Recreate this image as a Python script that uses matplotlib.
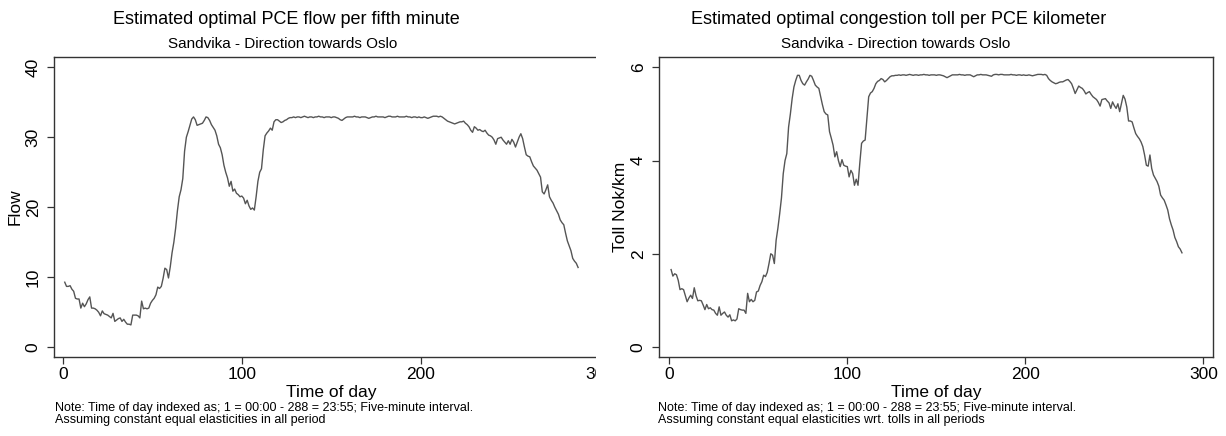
import numpy as np
import matplotlib
matplotlib.use("Agg")
import matplotlib.pyplot as plt
from matplotlib.patches import Rectangle

plt.rcParams['font.family'] = ['Liberation Sans', 'DejaVu Sans']

# ---------------- data ----------------
time_index = list(range(1, 289))

flow = [
    9.3, 8.7, 8.7, 8.8, 8.3, 8.0, 7.0, 6.9, 6.9, 5.6,
    6.3, 5.8, 6.2, 6.8, 7.2, 5.6, 5.6, 5.5, 5.3, 5.0,
    4.5, 5.2, 4.8, 4.7, 4.6, 4.4, 4.2, 4.85, 3.7, 3.9,
    4.1, 4.2, 3.7, 4.0, 3.6, 3.3, 3.3, 3.2, 4.6, 4.6,
    4.6, 4.5, 4.2, 6.6, 5.5, 5.6, 5.5, 5.6, 6.3, 6.7,
    7.0, 7.5, 8.6, 8.4, 8.7, 9.85, 11.3, 11.1, 9.9, 11.5,
    13.5, 15.0, 17.0, 19.5, 21.5, 22.5, 24.1, 28.0, 30.0, 30.8,
    31.7, 32.6, 32.9, 32.5, 31.7, 31.8, 31.9, 32.0, 32.4, 32.9,
    32.8, 32.4, 31.8, 31.4, 31.0, 30.2, 29.0, 28.5, 27.5, 26.0,
    25.0, 24.2, 23.0, 23.7, 22.3, 22.6, 22.0, 21.8, 21.5, 21.6,
    21.3, 20.5, 21.0, 20.2, 19.7, 19.9, 19.6, 21.5, 23.7, 25.0,
    25.5, 28.2, 30.2, 30.6, 30.9, 31.3, 31.0, 32.2, 32.5, 32.5,
    32.3, 32.1, 32.2, 32.4, 32.5, 32.7, 32.8, 32.8, 32.9, 32.8,
    32.9, 32.9, 32.8, 32.9, 33.0, 32.9, 32.8, 32.9, 32.9, 32.8,
    32.9, 32.9, 33.0, 32.9, 32.9, 32.8, 32.9, 32.9, 32.9, 32.8,
    32.9, 32.9, 32.8, 32.7, 32.5, 32.4, 32.6, 32.8, 32.9, 32.9,
    32.9, 32.9, 33.0, 32.9, 32.9, 32.8, 32.9, 32.9, 32.9, 32.8,
    32.7, 32.8, 32.9, 32.9, 33.0, 32.9, 32.9, 32.9, 32.9, 32.8,
    32.9, 33.0, 33.0, 32.9, 32.9, 32.9, 33.0, 32.9, 32.9, 32.9,
    32.9, 33.0, 32.9, 32.9, 32.8, 32.9, 32.9, 32.8, 32.9, 32.8,
    32.8, 32.9, 32.8, 32.7, 32.8, 32.9, 33.0, 33.0, 33.0, 32.9,
    33.0, 32.9, 32.7, 32.5, 32.3, 32.2, 32.1, 32.0, 31.9, 32.0,
    32.1, 32.2, 32.2, 32.3, 32.0, 31.8, 31.5, 31.0, 30.7, 31.5,
    31.3, 31.0, 31.1, 30.9, 30.8, 31.0, 30.6, 30.3, 30.2, 30.0,
    29.6, 29.0, 29.8, 29.9, 30.0, 29.6, 29.3, 29.0, 29.5, 29.0,
    29.7, 29.3, 28.6, 29.3, 30.0, 30.5, 29.8, 28.6, 27.5, 27.3,
    27.2, 26.5, 25.9, 25.6, 25.3, 24.8, 24.3, 22.2, 21.9, 22.5,
    23.2, 21.5, 21.0, 20.6, 20.0, 19.5, 19.0, 18.2, 17.8, 17.5,
    16.3, 15.2, 14.5, 13.8, 12.7, 12.3, 12.0, 11.4,
]

toll = [
    1.66, 1.52, 1.57, 1.55, 1.43, 1.23, 1.25, 1.23, 1.10, 0.97,
    1.05, 1.11, 1.04, 1.27, 1.10, 0.99, 1.00, 0.99, 0.90, 0.80,
    0.91, 0.82, 0.84, 0.80, 0.79, 0.72, 0.68, 0.86, 0.68, 0.72,
    0.75, 0.68, 0.64, 0.69, 0.56, 0.58, 0.56, 0.60, 0.82, 0.80,
    0.79, 0.79, 0.72, 1.15, 0.97, 1.02, 0.97, 1.00, 1.18, 1.20,
    1.32, 1.40, 1.54, 1.51, 1.60, 1.79, 2.00, 1.97, 1.79, 2.29,
    2.55, 2.86, 3.20, 3.72, 4.00, 4.15, 4.72, 5.00, 5.33, 5.58,
    5.72, 5.83, 5.83, 5.72, 5.65, 5.62, 5.69, 5.75, 5.83, 5.81,
    5.72, 5.62, 5.58, 5.55, 5.37, 5.20, 5.05, 5.00, 4.98, 4.62,
    4.48, 4.33, 4.08, 4.19, 4.00, 3.87, 4.02, 3.90, 3.88, 3.87,
    3.65, 3.79, 3.72, 3.47, 3.60, 3.47, 3.94, 4.37, 4.42, 4.44,
    4.90, 5.37, 5.45, 5.48, 5.55, 5.65, 5.70, 5.72, 5.76, 5.74,
    5.69, 5.72, 5.76, 5.80, 5.82, 5.82, 5.83, 5.83, 5.84, 5.83,
    5.84, 5.84, 5.83, 5.84, 5.85, 5.84, 5.83, 5.84, 5.84, 5.83,
    5.84, 5.84, 5.85, 5.84, 5.84, 5.83, 5.84, 5.84, 5.84, 5.83,
    5.84, 5.84, 5.83, 5.82, 5.80, 5.78, 5.80, 5.82, 5.84, 5.84,
    5.84, 5.84, 5.85, 5.84, 5.84, 5.83, 5.84, 5.84, 5.84, 5.82,
    5.80, 5.82, 5.84, 5.84, 5.85, 5.84, 5.84, 5.84, 5.83, 5.82,
    5.81, 5.84, 5.85, 5.85, 5.84, 5.85, 5.85, 5.84, 5.84, 5.84,
    5.84, 5.85, 5.84, 5.84, 5.83, 5.84, 5.84, 5.83, 5.84, 5.83,
    5.83, 5.84, 5.83, 5.82, 5.83, 5.84, 5.85, 5.85, 5.85, 5.84,
    5.85, 5.83, 5.76, 5.72, 5.69, 5.67, 5.65, 5.66, 5.68, 5.69,
    5.69, 5.71, 5.73, 5.74, 5.70, 5.65, 5.55, 5.44, 5.52, 5.60,
    5.57, 5.55, 5.50, 5.43, 5.46, 5.48, 5.42, 5.37, 5.34, 5.31,
    5.25, 5.17, 5.31, 5.32, 5.33, 5.28, 5.24, 5.12, 5.26, 5.18,
    5.12, 5.22, 5.05, 5.22, 5.40, 5.32, 5.15, 4.85, 4.85, 4.83,
    4.70, 4.58, 4.52, 4.47, 4.40, 4.30, 4.12, 3.90, 3.88, 4.12,
    3.83, 3.69, 3.62, 3.55, 3.45, 3.26, 3.20, 3.15, 3.05, 2.94,
    2.75, 2.62, 2.51, 2.35, 2.26, 2.15, 2.10, 2.02,
]

x_ticks = [0, 100, 200, 300]
flow_ticks = [0, 10, 20, 30, 40]
toll_ticks = [0, 2, 4, 6]

titles = ["Estimated optimal PCE flow per fifth minute",
          "Estimated optimal congestion toll per PCE kilometer"]
subtitle = "Sandvika - Direction towards Oslo"
ylabels = ["Flow", "Toll Nok/km"]
xlabel = "Time of day"
note_line1 = "Note: Time of day indexed as; 1 = 00:00 - 288 = 23:55; Five-minute interval."
note_line2 = ["Assuming constant equal elasticities in all period",
              "Assuming constant equal elasticities wrt. tolls in all periods"]

# ---------------- figure ----------------
W, H = 1226, 436
fig = plt.figure(figsize=(W / 100, H / 100), dpi=100)

def fx(px):
    return px / W

def fy(py):
    return 1 - py / H

top_px, bot_px = 56.7, 356.7
ax1 = fig.add_axes([fx(54), fy(bot_px), fx(608.5 - 54), (bot_px - top_px) / H])
ax2 = fig.add_axes([fx(659), fy(bot_px), fx(1213.3 - 659), (bot_px - top_px) / H])
ax1.set_zorder(0)
ax2.set_zorder(2)

line_color = "#555555"
spine_color = "#333333"

for ax, data, yt, ylab, ylim, xlim in [
    (ax1, flow, flow_ticks, ylabels[0], (-1.34, 41.5), (-5.0, 305.0)),
    (ax2, toll, toll_ticks, ylabels[1], (-0.21, 6.23), (-5.8, 305.6)),
]:
    ax.plot(time_index, data, color=line_color, lw=1.0)
    ax.set_xlim(*xlim)
    ax.set_ylim(*ylim)
    ax.set_xticks(x_ticks)
    ax.set_yticks(yt)
    ax.tick_params(axis='both', direction='out', length=5, width=0.9,
                   color=spine_color, labelsize=12.5)
    ax.tick_params(axis='y', pad=4.5)
    ax.tick_params(axis='x', pad=2.5)
    for lbl in ax.get_yticklabels():
        lbl.set_rotation(90)
        lbl.set_va('center')
    for s in ax.spines.values():
        s.set_color(spine_color)
        s.set_linewidth(1.0)
    ax.set_ylabel(ylab, fontsize=12.5)
    ax.yaxis.set_label_coords(-0.0559, 0.5)
    ax.set_xlabel(xlabel, fontsize=12.5, labelpad=2)

# Mask the clipped right edge of the left panel (drawn above ax1, below ax2)
fig.add_artist(Rectangle((fx(596), 0), fx(615 - 596), 1, transform=fig.transFigure,
                         facecolor="white", edgecolor="none", zorder=1))

# Titles
fig.text(fx(286), fy(19), titles[0], ha='center', va='center', fontsize=13)
fig.text(fx(899), fy(19), titles[1], ha='center', va='center', fontsize=13)
fig.text(fx(283), fy(44), subtitle, ha='center', va='center', fontsize=11)
fig.text(fx(896), fy(44), subtitle, ha='center', va='center', fontsize=11)

# Notes
for x0, l2 in [(55, note_line2[0]), (658, note_line2[1])]:
    fig.text(fx(x0), fy(411), note_line1, ha='left', va='baseline', fontsize=9.0)
    fig.text(fx(x0), fy(423), l2, ha='left', va='baseline', fontsize=9.0)

fig.savefig("out.png", dpi=100, facecolor="white")
